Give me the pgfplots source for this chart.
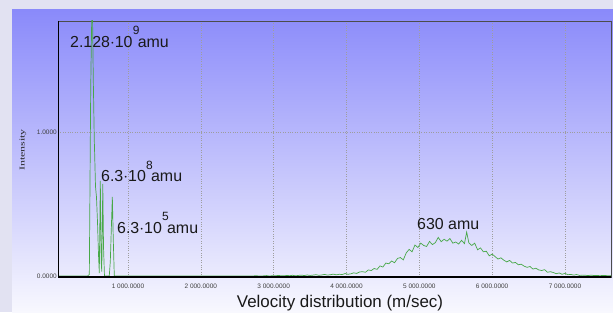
\documentclass[border=0pt]{standalone}
\usepackage{fontspec}
\setmainfont{Liberation Sans}
\newfontfamily\serifx{Liberation Serif}
\usepackage{graphicx}
\usepackage{pgfplots}
\pgfplotsset{compat=1.18}
\definecolor{outerbg}{RGB}{226,226,242}
\definecolor{paneltop}{RGB}{138,138,250}
\definecolor{panelbot}{RGB}{248,248,254}
\definecolor{curve}{RGB}{72,168,72}
\definecolor{txt}{RGB}{25,25,25}
\newcommand{\myexp}[1]{\kern0.2bp\raisebox{1.45ex}{\fontsize{12}{12}\selectfont #1}\kern-1.6bp}

\pgfplotstableread{
v I
39 0
444 0
469 0.01
488 1.30
508 2.00
524 1.35
537 0.95
554 0.62
567 0.55
581 0.38
595 0.15
606 0.02
620 0.66
632 0.10
640 0.03
654 0.64
664 0.20
677 0.0
743 0.0
757 0.10
785 0.55
798 0.25
812 0.0
2700 0.000
2760 0.002
2800 0.000
2860 0.001
2900 0.003
2940 0.000
2980 0.002
3020 0.001
3060 0.004
3100 0.002
3140 0.001
3180 0.004
3220 0.002
3260 0.005
3300 0.001
3340 0.004
3380 0.006
3420 0.003
3460 0.007
3500 0.004
3540 0.006
3580 0.009
3620 0.005
3660 0.007
3700 0.011
3740 0.006
3780 0.009
3820 0.013
3860 0.008
3900 0.012
3940 0.010
3980 0.017
4020 0.012
4060 0.015
4100 0.022
4140 0.018
4180 0.028
4220 0.030
4260 0.026
4300 0.042
4340 0.038
4380 0.052
4420 0.046
4460 0.070
4500 0.062
4540 0.090
4580 0.085
4620 0.104
4660 0.092
4700 0.122
4740 0.128
4780 0.112
4820 0.160
4860 0.185
4900 0.168
4940 0.215
4980 0.198
5020 0.228
5060 0.212
5100 0.205
5140 0.240
5180 0.218
5220 0.232
5260 0.268
5300 0.238
5340 0.255
5380 0.242
5420 0.260
5460 0.228
5500 0.236
5540 0.222
5580 0.248
5620 0.225
5650 0.305
5680 0.230
5720 0.212
5760 0.228
5800 0.182
5840 0.195
5880 0.168
5920 0.172
5960 0.140
6000 0.152
6040 0.135
6080 0.118
6120 0.126
6160 0.110
6200 0.098
6240 0.108
6280 0.090
6320 0.094
6360 0.078
6400 0.082
6440 0.068
6480 0.060
6520 0.066
6560 0.048
6600 0.054
6640 0.042
6680 0.038
6720 0.044
6760 0.026
6800 0.030
6840 0.024
6880 0.016
6920 0.021
6960 0.012
7000 0.018
7040 0.009
7080 0.011
7120 0.006
7160 0.010
7200 0.004
7240 0.006
7280 0.005
7320 0.003
7360 0.006
7400 0.003
7440 0.004
7480 0.002
7520 0.004
7560 0.003
7600 0.002
7640 0.003
}\spectrum

\begin{document}
\begin{tikzpicture}[x=1bp,y=1bp]
\useasboundingbox (0,0) rectangle (613,312);
\fill[outerbg] (0,0) rectangle (613,312);
\shade[top color=paneltop, bottom color=panelbot] (12,0) rectangle (613,302);
\begin{axis}[
  at={(58bp,35bp)}, anchor=south west,
  scale only axis, width=553bp, height=256bp,
  xmin=39, xmax=7632, ymin=-0.007, ymax=1.771,
  xtick={1000,2000,3000,4000,5000,6000,7000},
  xticklabels={1 000.0000,2 000.0000,3 000.0000,4 000.0000,5 000.0000,6 000.0000,7 000.0000},
  ytick={0,1}, yticklabels={0.0000,1.0000},
  grid=major,
  grid style={dotted, black!38, line width=0.6pt},
  major tick length=0pt,
  axis line style={draw=black!70, line width=0.7pt},
  tick label style={font=\fontsize{6.5}{7}\selectfont, text=black!75},
  xticklabel style={inner sep=0pt, anchor=north, yshift=-7bp},
  yticklabel style={inner sep=0pt, anchor=east, xshift=-1bp},
]
\addplot[curve, line width=0.7pt, mark=none] table[x=v, y=I] {\spectrum};
\draw[black, line width=1.2pt] (rel axis cs:0,1) -- (rel axis cs:0,0) -- (rel axis cs:1,0);
\end{axis}
\begin{scope}[every node/.style={inner sep=0pt, text=txt, font=\fontsize{16}{18}\selectfont}]
\node[anchor=base west] at (70,265) {2.128$\cdot$10\myexp{9}amu};
\node[anchor=base west] at (101,130.5) {6.3$\cdot$10\myexp{8}amu};
\node[anchor=base west] at (117,79) {6.3$\cdot$10\myexp{5}amu};
\node[anchor=base west] at (417,83) {630 amu};
\end{scope}
\node[inner sep=0pt, anchor=base, text=txt, font=\fontsize{17}{19}\selectfont] at (340,5) {Velocity distribution (m/sec)};
\node[inner sep=0pt, rotate=90, text=black!85] at (23,162) {\scalebox{1.6}[1]{\serifx\fontsize{7.5}{8}\selectfont Intensity}};
\end{tikzpicture}
\end{document}
